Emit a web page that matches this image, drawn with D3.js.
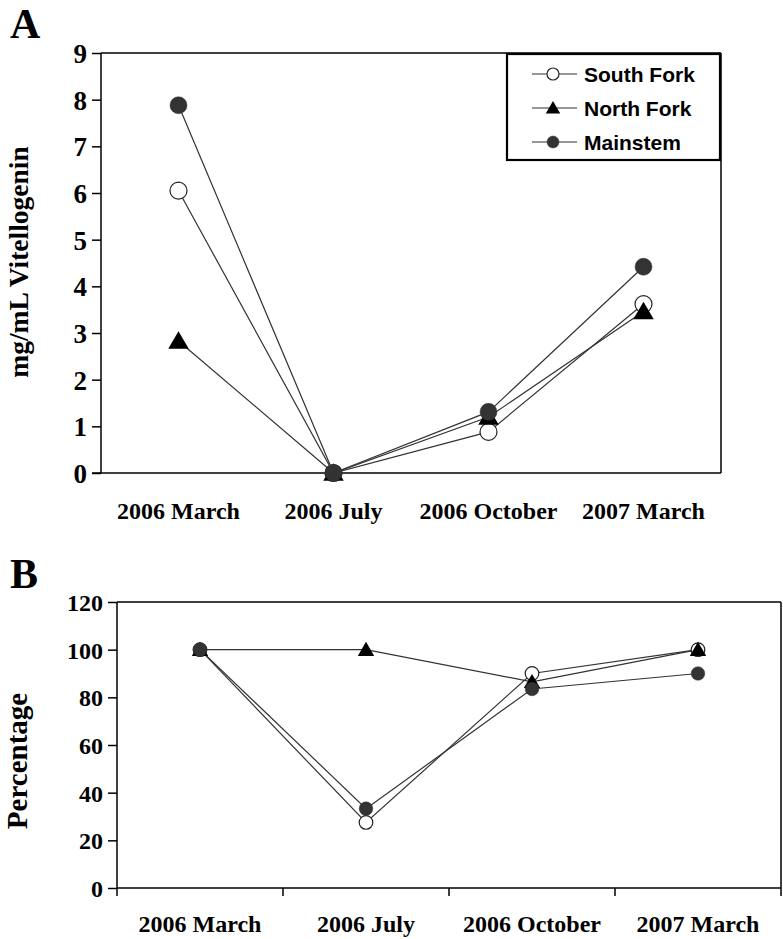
<!DOCTYPE html>
<html><head><meta charset="utf-8">
<script src="https://cdnjs.cloudflare.com/ajax/libs/d3/7.8.5/d3.min.js"></script>
<style>
body{margin:0;background:#fff;}
svg{display:block;}
.serif{font-family:"Liberation Serif","Times New Roman",serif;font-weight:bold;}
.sans{font-family:"Liberation Sans",Arial,sans-serif;font-weight:bold;}
</style></head>
<body>
<script>
// ---------- data ----------
const categories = ["2006 March", "2006 July", "2006 October", "2007 March"];
const seriesNames = ["South Fork", "North Fork", "Mainstem"];
// Panel A: mg/mL Vitellogenin
const vtgSouthFork = [6.05, 0, 0.88, 3.62];
const vtgNorthFork = [2.83, 0, 1.2, 3.46];
const vtgMainstem  = [7.88, 0, 1.31, 4.42];
const vtgTicks = [0,1,2,3,4,5,6,7,8,9];
// Panel B: Percentage
const pctSouthFork = [100, 27.5, 90, 100];
const pctNorthFork = [100, 100, 86.5, 100];
const pctMainstem  = [100, 33.3, 83.5, 90];
const pctTicks = [0,20,40,60,80,100,120];

const W = 783, H = 939;
const svg = d3.select("body").append("svg").attr("width", W).attr("height", H);

const lineColor = "#333";
const msFill = "#333";

function marker(g, type, x, y, r) {
  if (type === "South Fork") {
    g.append("circle").attr("cx", x).attr("cy", y).attr("r", r)
      .attr("fill", "#fff").attr("stroke", "#222").attr("stroke-width", 1.2);
  } else if (type === "Mainstem") {
    g.append("circle").attr("cx", x).attr("cy", y).attr("r", r)
      .attr("fill", msFill).attr("stroke", msFill).attr("stroke-width", 0.5);
  } else {
    const s = r * 1.15;
    g.append("path")
      .attr("d", `M${x},${y - s}L${x + s * 1.05},${y + s * 0.8}L${x - s * 1.05},${y + s * 0.8}Z`)
      .attr("fill", "#000");
  }
}

function panel(opt) {
  const {left, right, top, bottom, yMax, ticks, series, r, tickFont, titleFont, title, titleX, titleY, letter, letterY, xTicks, labelY} = opt;
  const g = svg.append("g");
  const x = d3.scaleBand().domain(categories).range([left, right]).padding(0);
  const y = d3.scaleLinear().domain([0, yMax]).range([bottom, top]);

  const ya = d3.axisLeft(y).tickValues(ticks).tickSize(9).tickPadding(5).tickFormat(d3.format("d"));
  const yg = g.append("g").attr("transform", `translate(${left},0)`).call(ya);
  yg.select(".domain").attr("stroke", "#000").attr("stroke-width", 1.5).attr("d", `M0,${bottom}V${top}`);
  yg.selectAll(".tick line").attr("stroke", "#000").attr("stroke-width", 1.5);
  yg.selectAll(".tick text").attr("class", "serif").attr("font-size", tickFont).attr("fill", "#000").attr("dy", "0.35em");

  // frame
  g.append("line").attr("x1", left).attr("x2", right).attr("y1", top).attr("y2", top).attr("stroke", "#000").attr("stroke-width", 1.5);
  g.append("line").attr("x1", right).attr("x2", right).attr("y1", top).attr("y2", bottom).attr("stroke", "#000").attr("stroke-width", 1.5);
  g.append("line").attr("x1", left - (xTicks ? 0 : 9)).attr("x2", right).attr("y1", bottom).attr("y2", bottom).attr("stroke", "#000").attr("stroke-width", 1.5);

  if (xTicks) {
    const bounds = categories.map(c => x(c)).concat([right]);
    g.selectAll(".xt").data(bounds).join("line")
      .attr("x1", d => d).attr("x2", d => d).attr("y1", bottom).attr("y2", bottom + 8)
      .attr("stroke", "#000").attr("stroke-width", 1.5);
  }
  g.selectAll(".xl").data(categories).join("text")
    .attr("class", "serif").attr("font-size", 24).attr("text-anchor", "middle")
    .attr("x", d => x(d) + x.bandwidth() / 2).attr("y", labelY).text(d => d);

  g.append("text").attr("class", "serif").attr("font-size", titleFont).attr("text-anchor", "middle")
    .attr("transform", `translate(${titleX},${titleY}) rotate(-90)`).text(title);
  g.append("text").attr("class", "serif").attr("font-size", 42).attr("x", 10).attr("y", letterY).text(letter);

  const line = d3.line().x((d, i) => x(categories[i]) + x.bandwidth() / 2).y(d => y(d));
  series.forEach(s => {
    g.append("path").attr("d", line(s.values)).attr("fill", "none").attr("stroke", lineColor).attr("stroke-width", 1.2);
  });
  series.forEach(s => {
    s.values.forEach((v, i) => marker(g, s.name, x(categories[i]) + x.bandwidth() / 2, y(v), r));
  });
  return g;
}

panel({
  left: 101, right: 721, top: 53, bottom: 473, yMax: 9, ticks: vtgTicks,
  series: [{name: "South Fork", values: vtgSouthFork}, {name: "North Fork", values: vtgNorthFork}, {name: "Mainstem", values: vtgMainstem}],
  r: 8.5, tickFont: 27, titleFont: 27.5, title: "mg/mL Vitellogenin", titleX: 28, titleY: 262, letter: "A", letterY: 38, xTicks: false, labelY: 519
});

panel({
  left: 117, right: 781, top: 602, bottom: 888, yMax: 120, ticks: pctTicks,
  series: [{name: "South Fork", values: pctSouthFork}, {name: "North Fork", values: pctNorthFork}, {name: "Mainstem", values: pctMainstem}],
  r: 6.8, tickFont: 24, titleFont: 29, title: "Percentage", titleX: 27, titleY: 761, letter: "B", letterY: 588, xTicks: true, labelY: 932
});

// legend
const lg = svg.append("g");
lg.append("rect").attr("x", 507).attr("y", 54).attr("width", 213).attr("height", 106)
  .attr("fill", "#fff").attr("stroke", "#000").attr("stroke-width", 2.2);
seriesNames.forEach((n, i) => {
  const cy = 74 + i * 34;
  lg.append("line").attr("x1", 532).attr("x2", 577).attr("y1", cy).attr("y2", cy).attr("stroke", lineColor).attr("stroke-width", 1.2);
  marker(lg, n, 553, cy, 6);
  lg.append("text").attr("class", "sans").attr("font-size", 21).attr("x", 584).attr("y", cy).attr("dy", "0.36em").text(n);
});
</script>
</body></html>
